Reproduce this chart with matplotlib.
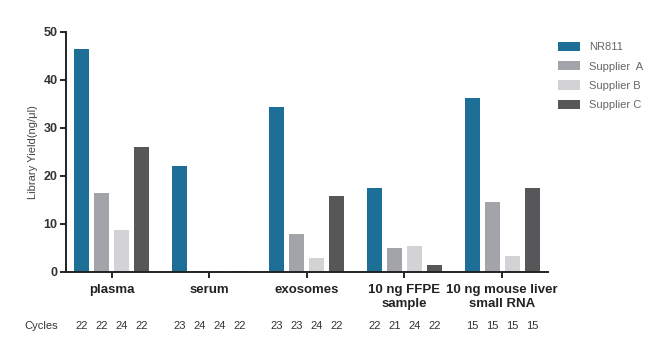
import matplotlib.pyplot as plt
import numpy as np

plt.rcParams['font.family'] = ['Liberation Sans', 'DejaVu Sans']

categories = ['plasma', 'serum', 'exosomes', '10 ng FFPE\nsample', '10 ng mouse liver\nsmall RNA']
series = ['NR811', 'Supplier  A', 'Supplier B', 'Supplier C']
nr811 = [46.5, 22.0, 34.3, 17.5, 36.3]
supplier_a = [16.5, 0.3, 7.8, 5.0, 14.5]
supplier_b = [8.8, 0.15, 3.0, 5.5, 3.3]
supplier_c = [26.0, 0.15, 15.8, 1.5, 17.5]
cycles = [[22, 22, 24, 22], [23, 24, 24, 22], [23, 23, 24, 22],
          [22, 21, 24, 22], [15, 15, 15, 15]]

colors = ['#1d6f98', '#a3a3aa', '#d3d3d5', '#575759']

fig = plt.figure(figsize=(6.65, 3.46), dpi=100)
ax = fig.add_axes([0.099, 0.214, 0.725, 0.694])

x = np.arange(len(categories))
step = 0.205
width = 0.155
offsets = (np.arange(4) - 1.5) * step
for i, (vals, lab) in enumerate(zip([nr811, supplier_a, supplier_b, supplier_c], series)):
    ax.bar(x + offsets[i], vals, width, color=colors[i], label=lab)

ax.set_xlim(-0.47, 4.47)
ax.set_ylim(0, 50)
ax.set_yticks(np.arange(0, 51, 10))
ax.set_yticklabels([str(v) for v in range(0, 51, 10)], fontweight='bold', fontsize=9, color='#333333')
ax.set_xticks(x)
ax.set_xticklabels(categories, fontweight='bold', fontsize=9.5, color='#222222', linespacing=1.15)
ax.tick_params(axis='x', length=4, width=1.2, pad=5)
ax.tick_params(axis='y', length=4, width=1.2, pad=2)
for s in ['top', 'right']:
    ax.spines[s].set_visible(False)
for s in ['left', 'bottom']:
    ax.spines[s].set_linewidth(1.4)
    ax.spines[s].set_color('#222222')
ax.set_ylabel('Library Yield(ng/\u03bcl)', fontsize=8, color='#444444', labelpad=4)

# cycles row
trans = ax.get_xaxis_transform()
ax.text(-0.89, -0.225, 'Cycles', transform=trans, fontsize=8, color='#333333',
        ha='left', va='center', clip_on=False)
for gi, cyc in enumerate(cycles):
    for bi, c in enumerate(cyc):
        ax.text(x[gi] + offsets[bi], -0.225, str(c), transform=trans, fontsize=8,
                color='#333333', ha='center', va='center', clip_on=False)

ax.legend(loc='upper left', bbox_to_anchor=(1.0, 1.0), frameon=False, fontsize=8,
          labelcolor='#666666', handlelength=2.0, handleheight=0.9, labelspacing=0.8)

fig.savefig('out.png', dpi=100)
